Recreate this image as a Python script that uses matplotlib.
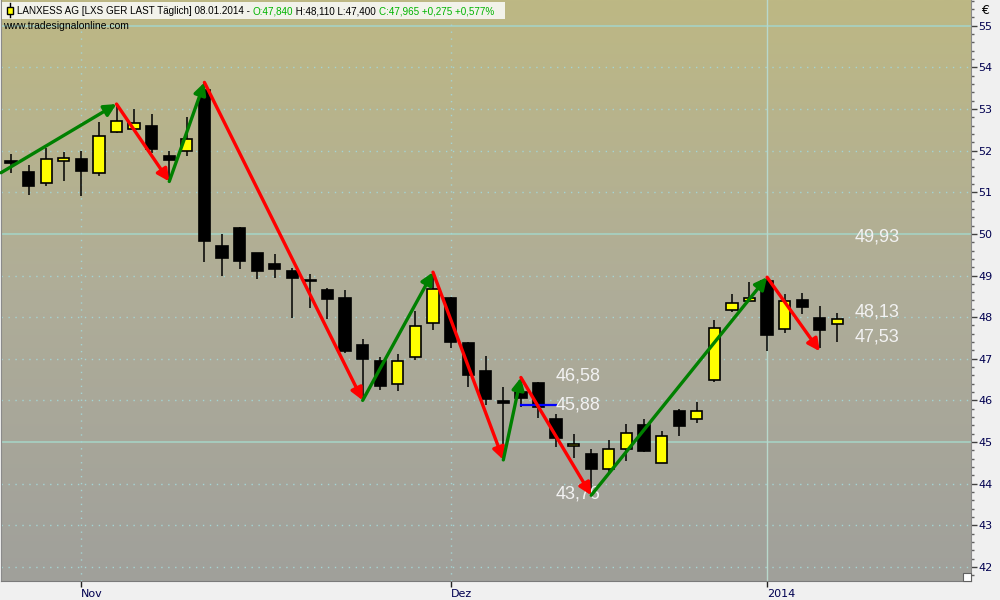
import numpy as np
import matplotlib.pyplot as plt
from matplotlib.colors import LinearSegmentedColormap
from matplotlib.patches import Rectangle
from matplotlib.lines import Line2D

# daily candles, 28.10.2013 - 08.01.2014
opens = [51.76, 51.49, 51.22, 51.74, 51.80, 51.47, 52.44, 52.53, 52.60, 51.87,
         51.99, 53.45, 49.70, 50.14, 49.54, 49.28, 49.11, 48.89, 48.65, 48.45,
         47.32, 46.95, 46.39, 47.05, 47.85, 48.45, 47.37, 46.71, 45.96, 46.19,
         46.41, 45.55, 44.90, 44.70, 44.34, 44.82, 45.41, 44.50, 45.74, 45.55,
         46.48, 48.16, 48.38, 48.88, 47.71, 48.41, 47.99, 47.84]
highs = [51.92, 51.66, 52.06, 51.97, 52.00, 52.68, 53.10, 53.00, 52.88, 52.00,
         52.80, 53.62, 50.00, 50.16, 49.55, 49.52, 49.17, 49.04, 48.70, 48.65,
         47.48, 47.05, 47.12, 48.14, 49.08, 48.48, 47.40, 47.07, 46.33, 46.55,
         46.45, 45.67, 45.19, 44.83, 45.05, 45.43, 45.55, 45.27, 45.79, 45.95,
         47.93, 48.56, 48.85, 48.96, 48.56, 48.59, 48.27, 48.11]
lows = [51.47, 50.94, 51.14, 51.28, 50.90, 51.40, 52.42, 52.50, 51.94, 51.26,
        51.87, 49.33, 49.00, 49.16, 48.92, 48.95, 47.99, 48.23, 47.96, 47.14,
        45.98, 46.25, 46.23, 46.97, 47.69, 47.27, 46.31, 45.90, 44.57, 45.85,
        45.57, 44.89, 44.62, 43.72, 44.29, 44.55, 44.77, 44.50, 45.15, 45.45,
        46.43, 48.13, 48.38, 47.19, 47.63, 48.08, 47.25, 47.40]
closes = [51.70, 51.16, 51.80, 51.82, 51.50, 52.36, 52.72, 52.66, 52.05, 51.78,
          52.28, 49.82, 49.43, 49.35, 49.12, 49.16, 48.95, 48.86, 48.44, 47.19,
          47.00, 46.35, 46.94, 47.78, 48.67, 47.41, 46.62, 46.04, 45.94, 46.06,
          45.85, 45.10, 44.95, 44.34, 44.84, 45.21, 44.79, 45.14, 45.38, 45.74,
          47.73, 48.33, 48.45, 47.58, 48.38, 48.24, 47.68, 47.965]

# zigzag swing points (bar index, price)
zz_idx = [-0.57, 6, 9, 11, 20, 24, 28, 29, 33, 43, 46]
zz_price = [51.47, 53.12, 51.26, 53.64, 46.00, 49.08, 44.57, 46.55, 43.72, 48.96, 47.18]

month_idx = [4, 25, 43]
month_labels = ['Nov', 'Dez', '2014']

levels_right = [49.93, 48.13, 47.53]
levels_mid = [46.58, 45.88, 43.76]
blue_level = 45.88

W, H = 1000, 600
fig = plt.figure(figsize=(10, 6), dpi=100)
fig.patch.set_facecolor('#f0f0f0')
ax = fig.add_axes([0.001, 19 / H, 0.970, 581 / H])

n = len(opens)
x0, x1 = -0.57, 54.6
y0, y1 = 41.66, 55.62

# background gradient
cmap = LinearSegmentedColormap.from_list('bg', ['#a0a09b', '#afad98', '#bdb884'])
grad = np.linspace(0, 1, 256).reshape(-1, 1)
ax.imshow(grad, extent=[0, 1, 0, 1], transform=ax.transAxes, origin='lower',
          aspect='auto', cmap=cmap, zorder=0)

# grid
dot = (0, (1, 4))
for p in range(42, 56):
    if p % 5 == 0:
        ax.axhline(p, color='#a6d2c4', lw=1.2, zorder=1)
    else:
        ax.axhline(p, color='#a4d4d4', lw=1, ls=dot, zorder=1)
ax.axvline(month_idx[0], color='#a4d4d4', lw=1, ls=dot, zorder=1)
ax.axvline(month_idx[1], color='#a4d4d4', lw=1, ls=dot, zorder=1)
ax.axvline(month_idx[2], color='#b8d8cc', lw=1, zorder=1)

# candles
for i in range(n):
    o, h, l, c = opens[i], highs[i], lows[i], closes[i]
    ax.plot([i, i], [l, h], color='black', lw=1.1, zorder=3, solid_capstyle='butt')
    bottom = min(o, c)
    height = max(abs(c - o), 0.04)
    face = '#ffff00' if c >= o else 'black'
    ax.add_patch(Rectangle((i - 0.32, bottom), 0.64, height, facecolor=face,
                           edgecolor='black', lw=1.2, zorder=4))

# blue line
ax.plot([29, 31], [blue_level, blue_level], color='#0000ff', lw=1.6, zorder=5)

# level labels
for p in levels_right:
    ax.text(48.0, p, f'{p:.2f}'.replace('.', ','), color='#f2f2f2', fontsize=13,
            family='Liberation Sans', va='center', ha='left', zorder=6)
for p in levels_mid:
    ax.text(31.0, p, f'{p:.2f}'.replace('.', ','), color='#f2f2f2', fontsize=13,
            family='Liberation Sans', va='center', ha='left', zorder=6)

# zigzag arrows
for k in range(len(zz_idx) - 1):
    col = '#008000' if zz_price[k + 1] > zz_price[k] else '#ff0000'
    ax.annotate('', xy=(zz_idx[k + 1], zz_price[k + 1]), xytext=(zz_idx[k], zz_price[k]),
                arrowprops=dict(arrowstyle='-|>', color=col, lw=2.4, mutation_scale=18,
                                shrinkA=0, shrinkB=0), zorder=7, annotation_clip=False)

ax.set_xlim(x0, x1)
ax.set_ylim(y0, y1)

# axes styling
ax.yaxis.tick_right()
ax.set_yticks(range(42, 56))
ax.set_yticks(np.arange(41.8, 55.6, 0.2), minor=True)
ax.tick_params(axis='y', which='major', length=4, width=1, color='#404040',
               labelsize=8, labelcolor='#000050', pad=1)
ax.tick_params(axis='y', which='minor', length=2, width=1, color='#606060')
ax.set_xticks(month_idx)
ax.set_xticklabels(month_labels, ha='left')
ax.tick_params(axis='x', length=4, width=1, color='#202020', labelsize=8,
               labelcolor='#000050', pad=1.5)
ax.spines['top'].set_visible(False)
ax.spines['bottom'].set_color('#7a7a7a')
ax.spines['right'].set_color('#8a8a8a')
ax.spines['left'].set_color('#8a8a8a')

fig.text(981 / W, 1 - 10 / H, '€', fontsize=9, color='black', va='center', ha='left')

# small corner box
fig.add_artist(Rectangle((963 / W, 19 / H), 8 / W, 8 / H, transform=fig.transFigure,
                         facecolor='white', edgecolor='#606060', lw=0.8, zorder=8))

# header box
fig.add_artist(Rectangle((2 / W, 1 - 19 / H), 503 / W, 17 / H, transform=fig.transFigure,
                         facecolor='#f2f2ea', edgecolor='none', zorder=8))
fig.add_artist(Line2D([9.5 / W, 9.5 / W], [1 - 17 / H, 1 - 3 / H], transform=fig.transFigure,
                      color='black', lw=1, zorder=9))
fig.add_artist(Rectangle((7 / W, 1 - 14 / H), 5.5 / W, 7 / H, transform=fig.transFigure,
                         facecolor='#ffff00', edgecolor='black', lw=1, zorder=10))

fig.text(3 / W, 1 - 26 / H, 'www.tradesignalonline.com', color='black', fontsize=7.5,
         family='Liberation Sans', va='center', ha='left', zorder=11)

pieces = [('LANXESS AG [LXS GER LAST Täglich] 08.01.2014 - ', 'black'),
          ('O:47,840', '#00b400'),
          (' H:48,110 L:47,400 ', 'black'),
          ('C:47,965 +0,275 +0,577%', '#00b400')]
renderer = fig.canvas.get_renderer()
xpos = 17
for txt, col in pieces:
    t = fig.text(xpos / W, 1 - 14 / H, txt, color=col, fontsize=7.15,
                 family='Liberation Sans', va='baseline', ha='left', zorder=11)
    bb = t.get_window_extent(renderer)
    xpos = bb.x1

plt.savefig('out.png', dpi=100, facecolor=fig.get_facecolor())
